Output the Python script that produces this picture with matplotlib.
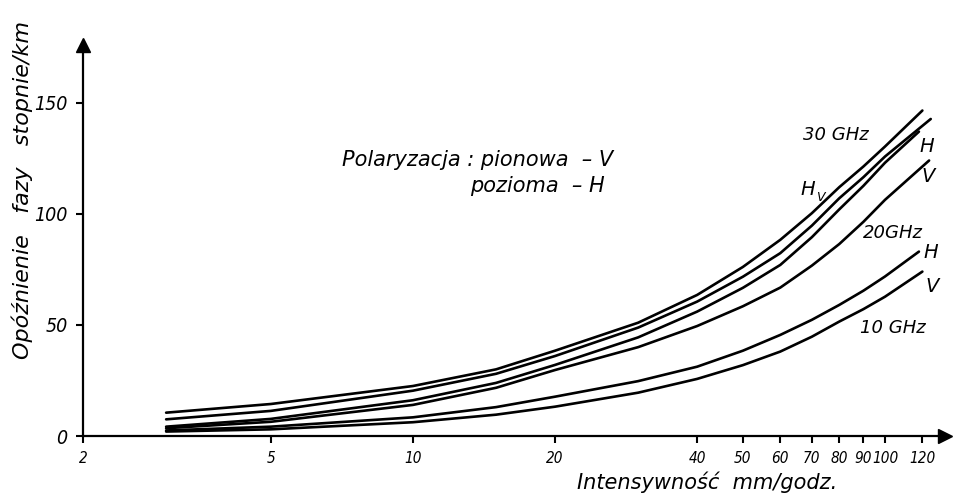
import matplotlib.pyplot as plt
from matplotlib import font_manager
from matplotlib.ticker import FixedLocator, NullLocator

plt.rcParams['font.family'] = ['DejaVu Sans']
plt.rcParams['font.style'] = 'italic'

# waskie pismo do opisow podzialki (jesli jest DejaVu Sans Condensed)
fp = font_manager.FontProperties(family='DejaVu Sans', style='italic', stretch='condensed')
if 'Condensed' in font_manager.findfont(fp):
    tick_fam = dict(family='DejaVu Sans', stretch='condensed')
    fs_x, fs_y = 11, 14
else:
    tick_fam = dict(family='Liberation Sans')
    fs_x, fs_y = 10.5, 12

# wartosci (intensywnosc deszczu mm/godz.)
x_pkt = [3, 5, 10, 15, 20, 30, 40, 50, 60, 70, 80, 90, 100]

# krzywe od gornej do dolnej
k1 = [10.5, 14.4, 22.5, 30.0, 38.4, 51.0, 63.5, 76.1, 88.3, 100.3, 112.0, 121.3, 130.3]  # 30 GHz Hv
k2 = [7.5, 11.3, 20.4, 28.0, 36.0, 48.8, 60.5, 71.7, 82.3, 94.7, 107.0, 116.5, 125.8]    # 30 GHz H
k3 = [4.2, 7.7, 16.1, 23.9, 32.0, 44.4, 56.0, 66.7, 77.0, 89.5, 102.0, 112.6, 123.0]     # 30 GHz
k4 = [3.5, 6.4, 14.0, 21.7, 29.7, 40.0, 49.5, 58.4, 66.8, 76.7, 86.4, 96.4, 106.3]       # 30 GHz V
k5 = [2.5, 4.2, 8.4, 13.0, 17.7, 24.7, 31.2, 38.4, 45.5, 52.3, 59.0, 65.4, 71.8]         # 20 GHz H
k6 = [2.0, 3.0, 6.2, 9.6, 13.2, 19.5, 25.7, 31.9, 38.0, 44.7, 51.5, 57.1, 62.7]          # 20 GHz V

# punkty koncowe krzywych (x, y)
konce_x = [120, 125, 118, 124, 118, 120]
konce_y = [146.5, 142.7, 137.0, 124.0, 83.0, 74.0]

x_ticks = [2, 5, 10, 20, 40, 50, 60, 70, 80, 90, 100, 120]
y_ticks = [0, 50, 100, 150]

fig = plt.figure(figsize=(9.59, 4.98), dpi=100)
ax = fig.add_axes([83 / 959, 62 / 498, 862 / 959, 391 / 498])

krzywe = [k1, k2, k3, k4, k5, k6]
for k, xe, ye in zip(krzywe, konce_x, konce_y):
    ax.plot(x_pkt + [xe], k + [ye], color='black', lw=1.9, solid_capstyle='round',
            solid_joinstyle='round')

ax.set_xscale('log')
ax.set_xlim(2, 134)
ax.set_ylim(0, 176)

ax.xaxis.set_major_locator(FixedLocator(x_ticks))
ax.xaxis.set_minor_locator(NullLocator())
ax.set_xticklabels([str(t) for t in x_ticks], fontsize=fs_x, **tick_fam)
ax.set_yticks(y_ticks)
ax.set_yticklabels([str(t) for t in y_ticks], fontsize=fs_y, **tick_fam)
ax.tick_params(axis='both', length=5, width=1.5, direction='out', pad=6)

for s in ['top', 'right']:
    ax.spines[s].set_visible(False)
for s in ['left', 'bottom']:
    ax.spines[s].set_linewidth(1.6)

# strzalki na osiach
ax.plot(1, 0, '>', color='black', markersize=10, transform=ax.transAxes, clip_on=False)
ax.plot(0, 1, '^', color='black', markersize=10, transform=ax.transAxes, clip_on=False)

# opisy osi
fig.text(22 / 959, 1 - 190 / 498, 'Opóźnienie   fazy   stopnie/km', rotation=90,
         ha='center', va='center', fontsize=16)
fig.text(577 / 959, 1 - 482 / 498, 'Intensywność  mm/godz.', ha='left', va='center',
         fontsize=15)

# legenda polaryzacji
fig.text(613 / 959, 1 - 160 / 498, 'Polaryzacja : pionowa  – V', ha='right', va='center',
         fontsize=15)
fig.text(605 / 959, 1 - 186 / 498, 'pozioma  – H', ha='right', va='center', fontsize=15)

# etykiety krzywych
etykiety = [
    ('30 GHz', 836, 135, 13),
    ('H', 808, 189, 14),
    ('H', 927, 147, 14),
    ('V', 928, 177, 14),
    ('20GHz', 893, 233, 13),
    ('H', 931, 252, 14),
    ('V', 932, 287, 14),
    ('10 GHz', 893, 328, 13),
]
for tekst, px, py, fs in etykiety:
    fig.text(px / 959, 1 - py / 498, tekst, ha='center', va='center', fontsize=fs)
fig.text(820 / 959, 1 - 197 / 498, 'V', ha='center', va='center', fontsize=9)

fig.savefig('out.png', dpi=100)
